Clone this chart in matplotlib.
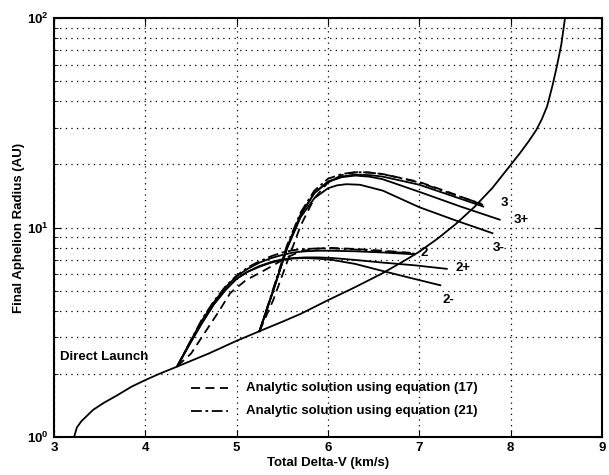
import matplotlib
matplotlib.use('Agg')
import matplotlib.pyplot as plt
from matplotlib.ticker import LogLocator, FixedLocator, NullFormatter

plt.rcParams['font.family'] = ['Liberation Sans', 'DejaVu Sans']
plt.rcParams['font.weight'] = 'bold'
plt.rcParams['axes.labelweight'] = 'bold'
plt.rcParams['mathtext.fontset'] = 'custom'
plt.rcParams['mathtext.rm'] = 'Liberation Sans:bold'
plt.rcParams['mathtext.it'] = 'Liberation Sans:bold'
plt.rcParams['mathtext.default'] = 'rm'

# direct launch boundary
dl_x = [3.22, 3.25, 3.3, 3.43, 3.55, 3.69, 3.85, 4.0, 4.15, 4.35, 4.7, 5.0, 5.25, 5.5, 5.7,
        6.0, 6.3, 6.6, 6.85, 7.0, 7.2, 7.4, 7.6, 7.8, 8.0, 8.1, 8.2, 8.28, 8.34, 8.4,
        8.46, 8.51, 8.555, 8.595]
dl_y = [1.0, 1.11, 1.19, 1.35, 1.46, 1.58, 1.74, 1.87, 2.0, 2.17, 2.51, 2.88, 3.2, 3.55, 3.87,
        4.5, 5.2, 6.06, 7.0, 7.67, 8.85, 10.4, 12.5, 15.45, 19.9, 22.6, 25.9, 29.2, 32.8, 38,
        48, 60, 75, 100]

# two-burn family, "2"
f2_x = [4.35, 4.5, 4.62, 4.75, 4.88, 5.0, 5.12, 5.25, 5.38, 5.5, 5.62, 5.75, 5.9, 6.0, 6.3, 6.6, 6.95]
f2_y = [2.18, 2.9, 3.6, 4.4, 5.2, 5.85, 6.35, 6.8, 7.15, 7.4, 7.6, 7.7, 7.75, 7.75, 7.7, 7.6, 7.45]
f2p_x = [4.35, 4.5, 4.62, 4.75, 4.88, 5.0, 5.12, 5.25, 5.38, 5.5, 5.62, 5.75, 5.9, 6.05, 6.3, 6.6, 6.95, 7.3]
f2p_y = [2.18, 2.85, 3.5, 4.3, 5.05, 5.7, 6.15, 6.55, 6.85, 7.05, 7.15, 7.2, 7.2, 7.15, 7.0, 6.8, 6.6, 6.35]
f2m_x = [4.35, 4.5, 4.62, 4.75, 4.88, 5.0, 5.12, 5.25, 5.38, 5.5, 5.62, 5.75, 5.9, 6.05, 6.3, 6.6, 6.9, 7.23]
f2m_y = [2.18, 2.85, 3.5, 4.3, 5.05, 5.7, 6.15, 6.5, 6.8, 7.0, 7.12, 7.15, 7.1, 7.0, 6.7, 6.2, 5.75, 5.3]
f2_eq17_x = [4.35, 4.5, 4.67, 4.8, 4.93, 5.1, 5.26, 5.4, 5.55, 5.7, 5.85, 6.0, 6.3, 6.6, 6.95]
f2_eq17_y = [2.18, 2.5, 3.24, 3.95, 4.87, 5.6, 6.1, 6.6, 7.2, 7.7, 7.9, 8.0, 7.9, 7.75, 7.55]
f2_eq21_x = [4.35, 4.5, 4.62, 4.75, 4.88, 5.0, 5.12, 5.25, 5.38, 5.5, 5.62, 5.75, 5.9, 6.05, 6.3, 6.6, 6.95]
f2_eq21_y = [2.18, 2.9, 3.65, 4.45, 5.25, 5.9, 6.45, 6.9, 7.3, 7.6, 7.8, 7.9, 7.95, 7.95, 7.85, 7.7, 7.5]

# three-burn family, "3"
f3_x = [5.25, 5.4, 5.55, 5.7, 5.85, 6.0, 6.15, 6.3, 6.45, 6.6, 7.0, 7.35, 7.7]
f3_y = [3.2, 5.0, 8.0, 11.5, 14.6, 16.6, 17.5, 17.9, 17.8, 17.5, 16.0, 14.2, 12.6]
f3p_x = [5.25, 5.4, 5.55, 5.7, 5.85, 6.0, 6.15, 6.3, 6.45, 6.6, 7.0, 7.45, 7.88]
f3p_y = [3.2, 5.0, 8.0, 11.5, 14.6, 16.5, 17.4, 17.7, 17.5, 17.0, 14.8, 12.6, 10.9]
f3m_x = [5.25, 5.4, 5.55, 5.7, 5.85, 6.0, 6.1, 6.2, 6.35, 6.6, 7.0, 7.4, 7.8]
f3m_y = [3.2, 5.0, 7.9, 11.2, 13.8, 15.4, 15.9, 16.1, 16.0, 15.0, 12.5, 10.8, 9.4]
f3_eq17_x = [5.25, 5.4, 5.55, 5.7, 5.85, 6.0, 6.15, 6.32, 6.45, 6.6, 7.0, 7.35, 7.7]
f3_eq17_y = [3.2, 4.5, 6.8, 10.2, 13.8, 16.4, 17.8, 18.4, 18.3, 18.0, 16.5, 14.6, 12.8]
f3_eq21_x = [5.25, 5.4, 5.55, 5.7, 5.85, 6.0, 6.15, 6.3, 6.45, 6.6, 7.0, 7.35, 7.7]
f3_eq21_y = [3.2, 5.1, 8.2, 11.8, 15.0, 17.1, 18.0, 18.4, 18.3, 18.0, 16.4, 14.5, 12.9]

curve_labels = ['3', '3+', '3-', '2', '2+', '2-']
label_x = [7.93, 8.12, 7.87, 7.05, 7.48, 7.32]
label_y = [13.1, 10.9, 8.0, 7.55, 6.4, 4.5]

fig = plt.figure(figsize=(6.09, 4.75), dpi=100)
ax = fig.add_axes([0.0887, 0.08, 0.8998, 0.882])

lw = 1.3
dash = (0, (5, 3))
dashdot = (0, (6, 2, 1.5, 2))
ax.plot(dl_x, dl_y, 'k-', lw=lw)
for x, y in [(f2_x, f2_y), (f2p_x, f2p_y), (f2m_x, f2m_y),
             (f3_x, f3_y), (f3p_x, f3p_y), (f3m_x, f3m_y)]:
    ax.plot(x, y, 'k-', lw=lw)
ax.plot(f2_eq17_x, f2_eq17_y, 'k', ls=dash, lw=lw)
ax.plot(f3_eq17_x, f3_eq17_y, 'k', ls=dash, lw=lw)
ax.plot(f2_eq21_x, f2_eq21_y, 'k', ls=dashdot, lw=lw)
ax.plot(f3_eq21_x, f3_eq21_y, 'k', ls=dashdot, lw=lw)

for s, x, y in zip(curve_labels, label_x, label_y):
    ax.text(x, y, s, fontsize=9.5, ha='center', va='center')
ax.text(3.07, 2.41, 'Direct Launch', fontsize=9.5, ha='left', va='center')

# legend drawn by hand inside the axes
ax.plot([4.5, 4.9], [1.72, 1.72], 'k', ls=dash, lw=lw)
ax.plot([4.5, 4.9], [1.33, 1.33], 'k', ls=dashdot, lw=lw)
ax.text(5.1, 1.72, 'Analytic solution using equation (17)', fontsize=9.5, va='center')
ax.text(5.1, 1.33, 'Analytic solution using equation (21)', fontsize=9.5, va='center')

ax.set_yscale('log')
ax.set_xlim(3, 9)
ax.set_ylim(1, 100)
ax.xaxis.set_major_locator(FixedLocator([3, 4, 5, 6, 7, 8, 9]))
ax.yaxis.set_major_locator(LogLocator(base=10))
ax.yaxis.set_minor_locator(LogLocator(base=10, subs=range(2, 10)))
ax.yaxis.set_minor_formatter(NullFormatter())

grid_ls = (0, (1, 3.5))
ax.grid(True, which='major', axis='both', color='k', ls=grid_ls, lw=0.9)
ax.grid(True, which='minor', axis='y', color='k', ls=grid_ls, lw=0.9)

ax.tick_params(which='both', direction='in', top=True, right=True, labelsize=9.5)
ax.tick_params(which='major', length=5)
ax.tick_params(which='minor', length=3)
for sp in ax.spines.values():
    sp.set_linewidth(1.5)

ax.set_xlabel('Total Delta-V (km/s)', fontsize=9.5, labelpad=2)
ax.set_ylabel('Final Aphelion Radius (AU)', fontsize=9.5, labelpad=2)

fig.savefig('out.png', dpi=100)
